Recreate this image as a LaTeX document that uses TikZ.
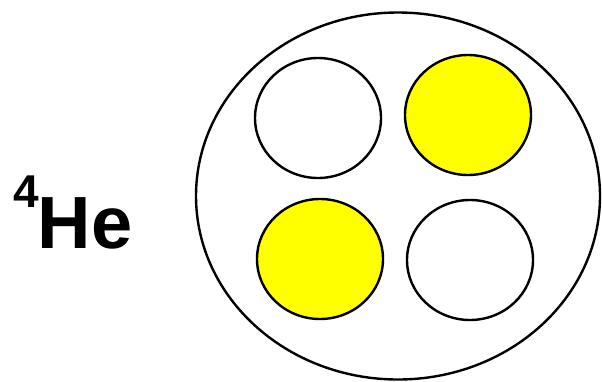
\documentclass[tikz,border=0pt]{standalone}
\usepackage{fontspec}
\setmainfont{Liberation Sans}
\usetikzlibrary{shapes.geometric}
\definecolor{heyel}{RGB}{255,255,0}
\tikzset{
  ring/.style={ellipse, draw=black, line width=2.4pt, inner sep=0pt},
  nucleon/.style={ring, minimum width=126pt, minimum height=120pt},
  proton/.style={nucleon, fill=heyel},
  neutron/.style={nucleon, fill=white},
}
\begin{document}
\begin{tikzpicture}[x=1pt,y=-1pt]
\useasboundingbox (0,0) rectangle (602,381);
\node[ring, minimum width=404pt, minimum height=367pt] (outer) at (398,196) {};
\node[neutron] (c1) at (318,118) {};
\node[proton]  (c2) at (468,115) {};
\node[proton]  (c3) at (320,259) {};
\node[neutron] (c4) at (470,260) {};
\node[anchor=base west, inner sep=0pt, font=\bfseries] (label) at (13,248)
  {\raisebox{41pt}{\fontsize{46}{46}\selectfont 4}\kern-1pt{\fontsize{74}{74}\selectfont He}};
\end{tikzpicture}
\end{document}
